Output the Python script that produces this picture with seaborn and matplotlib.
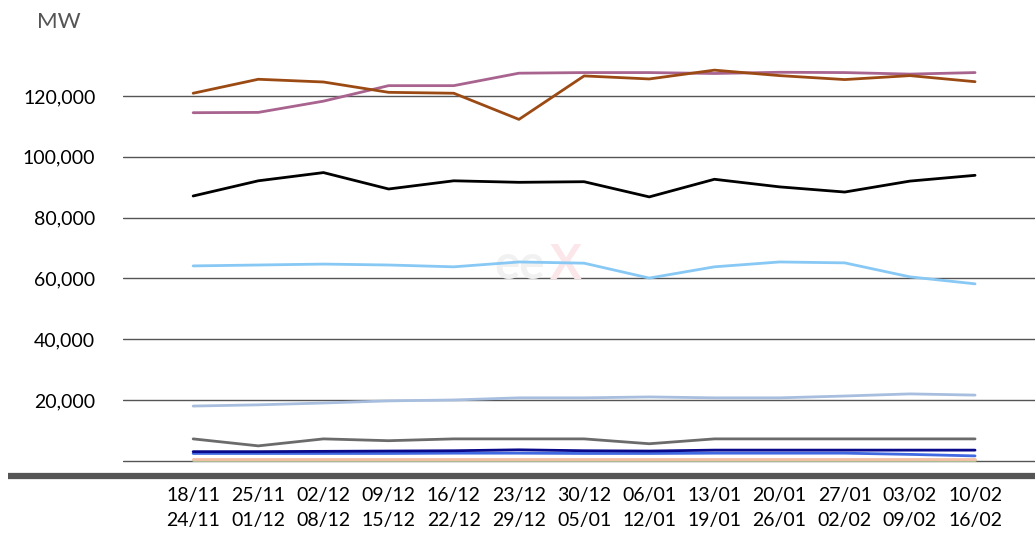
import numpy as np
import pandas as pd
import matplotlib
matplotlib.use("Agg")
import matplotlib.pyplot as plt
from matplotlib.lines import Line2D
from matplotlib import font_manager
import seaborn as sns

# weeks (start / end)
week_start = ["18/11", "25/11", "02/12", "09/12", "16/12", "23/12", "30/12",
              "06/01", "13/01", "20/01", "27/01", "03/02", "10/02"]
week_end = ["24/11", "01/12", "08/12", "15/12", "22/12", "29/12", "05/01",
            "12/01", "19/01", "26/01", "02/02", "09/02", "16/02"]

# MW values
brown = [120900, 125500, 124600, 121200, 120900, 112300, 126600,
         125600, 128500, 126700, 125400, 126700, 124700]
mauve = [114500, 114600, 118300, 123400, 123400, 127500, 127700,
         127700, 127400, 127800, 127700, 127200, 127700]
black = [87100, 92100, 94800, 89400, 92100, 91600, 91800,
         86800, 92600, 90100, 88400, 92000, 93900]
skyblue = [64100, 64400, 64700, 64400, 63800, 65400, 65000,
           60100, 63800, 65400, 65100, 60500, 58200]
steelblue = [18000, 18400, 19000, 19700, 20000, 20700, 20700,
             21000, 20700, 20700, 21300, 22000, 21600]
grey = [7200, 4900, 7200, 6600, 7200, 7200, 7200,
        5600, 7200, 7200, 7200, 7200, 7200]
navy = [3000, 3000, 3100, 3200, 3300, 3600, 3300,
        3200, 3500, 3500, 3500, 3500, 3500]
royal = [2400, 2400, 2400, 2400, 2500, 2500, 2400,
         2400, 2500, 2500, 2500, 2100, 1600]
peach = [700, 700, 700, 700, 700, 700, 700,
         700, 700, 700, 700, 700, 700]
sage = [300, 300, 300, 300, 300, 300, 300,
        300, 300, 300, 300, 300, 300]

series = {"brown": brown, "mauve": mauve, "black": black, "skyblue": skyblue,
          "steelblue": steelblue, "grey": grey, "navy": navy, "royal": royal,
          "peach": peach, "sage": sage}
colors = {"brown": "#9c4a14", "mauve": "#a8638f", "black": "#000000",
          "skyblue": "#87c8f5", "steelblue": "#a8bedf", "grey": "#6b6b6b",
          "navy": "#0a0a8a", "royal": "#4169e1", "peach": "#f4c0a6",
          "sage": "#b5c99a"}

rows = []
for name, vals in series.items():
    for i, v in enumerate(vals):
        rows.append({"week": i, "MW": v, "series": name})
df = pd.DataFrame(rows)

sns.set_style("white")
names = {f.name for f in font_manager.fontManager.ttflist}
fam = [f for f in ['Liberation Sans Narrow', 'DejaVu Sans Condensed', 'Lato'] if f in names]
plt.rcParams['font.family'] = fam[:1] + ['DejaVu Sans']

fig = plt.figure(figsize=(10.35, 5.36), dpi=100)
ax = fig.add_axes([0.119, 0.112, 0.881, 0.832])

for y in [0, 20000, 40000, 60000, 80000, 100000, 120000]:
    ax.axhline(y, color="#555555", lw=1.0, zorder=0)

# draw bottom lines first so the top ones overlay
order = ["sage", "peach", "royal", "navy", "grey", "steelblue",
         "skyblue", "black", "mauve", "brown"]
sns.lineplot(data=df, x="week", y="MW", hue="series", hue_order=order,
             palette=colors, lw=2.0, legend=False, ax=ax)

ax.set_xlim(-1.074, 12.92)
ax.set_ylim(-5000, 141700)
ax.set_yticks([20000, 40000, 60000, 80000, 100000, 120000])
ax.set_yticklabels([f"{v:,}" for v in [20000, 40000, 60000, 80000, 100000, 120000]])
ax.set_xticks(range(len(week_start)))
ax.set_xticklabels([f"{a}\n{b}" for a, b in zip(week_start, week_end)],
                   linespacing=1.55)
ax.tick_params(axis="x", length=0, labelsize=14, colors="#000000", pad=8)
ax.tick_params(axis="y", length=0, labelsize=14, colors="#000000", pad=20)
ax.set_xlabel("")
ax.set_ylabel("")
sns.despine(ax=ax, left=True, bottom=True, top=True, right=True)

# thick bottom bar running under the labels
fig.add_artist(Line2D([8 / 1035, 1.0], [1 - 476 / 536] * 2,
                      transform=fig.transFigure, color="#555555", lw=4.5,
                      solid_capstyle="butt"))

fig.text(37 / 1035, 1 - 22 / 536, "MW", fontsize=16, color="#555555",
         va="center", ha="left")

# faint watermark
ax.text(0.463, 0.473, "ee", transform=ax.transAxes, fontsize=34,
        color="#f1f1f1", ha="right", va="center", fontweight="bold", zorder=0)
ax.text(0.468, 0.473, "X", transform=ax.transAxes, fontsize=34,
        color="#fbe6ea", ha="left", va="center", fontweight="bold", zorder=0)

fig.savefig("out.png", dpi=100)
